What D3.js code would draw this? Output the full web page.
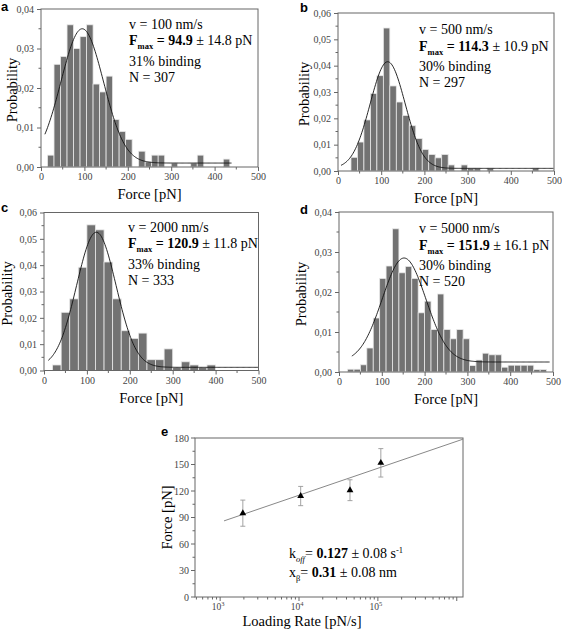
<!DOCTYPE html>
<html><head><meta charset="utf-8">
<script src="https://cdn.jsdelivr.net/npm/d3@7/dist/d3.min.js"></script>
<style>
body{margin:0;background:#fff}
svg{display:block}
text{font-family:"Liberation Serif","Times New Roman",serif}
.lab{font-family:"Liberation Sans",Arial,sans-serif;font-weight:bold}
</style>
</head><body>
<svg id="chart" width="562" height="631"></svg>
<script>
// ---------- DATA ----------
const forceTicks = [0, 100, 200, 300, 400, 500];

// Panel a: v = 100 nm/s, bins of 15 pN starting at 15 pN
const binStartA = 15, binWidthA = 15;
const probA = [0.003,0.026,0.028,0.036,0.030,0.033,0.036,0.021,0.019,0.023,0.012,0.009,0.007,0,
               0.004,0.0013,0.003,0.003,0,0.001,0,0,0.001,0.003,0,0,0,0.002];
const fitA = {xc: 95, w: 49, A: 0.034, y0: 0.001, from: 9, to: 440};

// Panel b: v = 500 nm/s
const binStartB = 30, binWidthB = 15;
const probB = [0.0052,0.011,0.0194,0.0294,0.0362,0.0543,0.0323,0.0262,0.0211,0.0172,0.0123,0.0082,
               0.0063,0.005,0.0063,0.0023,0,0.0023,0.0011,0.0011,0,0.0011,0,0,0,0,0,0,0.0011];
const fitB = {xc: 115, w: 40.5, A: 0.0405, y0: 0.001, from: 7, to: 500};

// Panel c: v = 2000 nm/s, bins of 20 pN
const binStartC = 20, binWidthC = 20;
const probC = [0.0021,0.0221,0.0272,0.0392,0.0553,0.0534,0.0412,0.0272,0.0151,0.0122,0.0142,
               0.0041,0.0041,0.0082,0.0012,0.0033,0.0021,0.0012,0.0021];
const fitC = {xc: 122, w: 46, A: 0.0513, y0: 0.0012, from: 10, to: 500};

// Panel d: v = 5000 nm/s
const binStartD = 20, binWidthD = 15;
const probD = [0.0007,0.0007,0.0018,0.006,0.0135,0.0234,0.0265,0.0358,0.0248,0.0264,0.0234,0.0148,
               0.0177,0.0106,0.0195,0.0106,0.0083,0.0106,0.0083,0.0016,0.003,0.0047,0.0043,0.0043,
               0.0012,0.0017,0.0017,0.0017,0.0017,0.0006,0.0006];
const fitD = {xc: 152, w: 51, A: 0.026, y0: 0.0025, from: 30, to: 493};

const velocities = ["100", "500", "2000", "5000"];
const fmaxValues = ["94.9", "114.3", "120.9", "151.9"];
const fmaxErrors = ["14.8", "10.9", "11.8", "16.1"];
const bindingPct = ["31%", "30%", "33%", "30%"];
const countsN = ["307", "297", "333", "520"];

// Panel e: loading rate vs rupture force
const loadingRates = [1940, 10500, 44300, 109000];
const ruptureForce = [94.9, 114.3, 120.9, 151.9];
const ruptureErr = [14.8, 10.9, 11.8, 16.1];
const forceTicksE = [0, 30, 60, 90, 120, 150, 180];
const rateTickExps = [3, 4, 5];
const koff = 0.127, xBeta = 0.31, kT = 4.11;
const fitRates = [1120, 1.2e6];

// ---------- DRAW ----------
const svg = d3.select("#chart");
const fmtProb = d => d3.format(".2f")(d).replace(".", ",");
const axisCol = "#666", tickTextCol = "#444";

function histPanel(cfg) {
  const g = svg.append("g");
  const x = d3.scaleLinear().domain([0, 500]).range([cfg.left, cfg.right]);
  const y = d3.scaleLinear().domain([0, cfg.yMax]).range([cfg.bottom, cfg.top]);

  const bins = cfg.probs.map((p, i) => ({x0: cfg.start + i * cfg.width, x1: cfg.start + (i + 1) * cfg.width, p}))
                        .filter(b => b.p > 0);
  g.selectAll("rect.bar").data(bins).join("rect")
    .attr("class", "bar")
    .attr("x", d => x(d.x0)).attr("width", d => x(d.x1) - x(d.x0))
    .attr("y", d => y(d.p)).attr("height", d => y(0) - y(d.p))
    .attr("fill", "#727272").attr("stroke", "#e8e8e8").attr("stroke-width", 0.8);

  const f = cfg.fit;
  const pts = d3.range(f.from, f.to + 0.01, 2).map(v => [v, f.y0 + f.A * Math.exp(-((v - f.xc) ** 2) / (2 * f.w * f.w))]);
  g.append("path").datum(pts)
    .attr("d", d3.line().x(d => x(d[0])).y(d => y(d[1])))
    .attr("fill", "none").attr("stroke", "#111").attr("stroke-width", 0.9);

  g.append("rect").attr("x", cfg.left).attr("y", cfg.top)
    .attr("width", cfg.right - cfg.left).attr("height", cfg.bottom - cfg.top)
    .attr("fill", "none").attr("stroke", axisCol).attr("stroke-width", 1);

  const yAx = d3.axisLeft(y).tickValues(cfg.yTicks).tickFormat(fmtProb).tickSize(4).tickPadding(3);
  const ya = g.append("g").attr("transform", `translate(${cfg.left},0)`).call(yAx);
  const yMinor = d3.range(0.005, cfg.yMax, 0.01);
  g.selectAll("line.ym").data(yMinor).join("line").attr("class", "ym")
    .attr("x1", cfg.left - 2.5).attr("x2", cfg.left).attr("y1", d => y(d)).attr("y2", d => y(d))
    .attr("stroke", axisCol);

  const xAx = d3.axisBottom(x).tickValues(forceTicks).tickFormat(d3.format("d")).tickSize(4).tickPadding(2);
  const xa = g.append("g").attr("transform", `translate(0,${cfg.bottom})`).call(xAx);
  g.selectAll("line.xm").data([50, 150, 250, 350, 450]).join("line").attr("class", "xm")
    .attr("y1", cfg.bottom).attr("y2", cfg.bottom + 2.5).attr("x1", d => x(d)).attr("x2", d => x(d))
    .attr("stroke", axisCol);

  [ya, xa].forEach(a => {
    a.select(".domain").remove();
    a.selectAll(".tick line").attr("stroke", axisCol);
    a.selectAll(".tick text").attr("font-size", 10).attr("fill", tickTextCol)
      .attr("font-family", '"Liberation Serif",serif');
  });

  g.append("text").attr("x", (cfg.left + cfg.right) / 2).attr("y", cfg.bottom + 32)
    .attr("text-anchor", "middle").attr("font-size", 14.5).text("Force [pN]");
  g.append("text").attr("transform", `translate(${cfg.ylabX},${(cfg.top + cfg.bottom) / 2 + 2}) rotate(-90)`)
    .attr("text-anchor", "middle").attr("font-size", 14.5).text("Probability");

  g.append("text").attr("class", "lab").attr("x", cfg.letterX).attr("y", cfg.letterY)
    .attr("font-size", 13).text(cfg.letter);

  const i = cfg.idx, tx = cfg.annX, ty = cfg.annY, fs = 14;
  g.append("text").attr("x", tx).attr("y", ty).attr("font-size", fs).text(`v = ${velocities[i]} nm/s`);
  const t2 = g.append("text").attr("x", tx).attr("y", ty + 16.5).attr("font-size", fs);
  t2.append("tspan").attr("font-weight", "bold").text("F");
  t2.append("tspan").attr("font-weight", "bold").attr("font-size", 8.5).attr("dy", 4).text("max");
  t2.append("tspan").attr("font-weight", "bold").attr("dy", -4).text(i === 0 ? " =  " : " = ");
  t2.append("tspan").attr("font-weight", "bold").text(fmaxValues[i]);
  t2.append("tspan").text(` \u00b1 ${fmaxErrors[i]} pN`);
  g.append("text").attr("x", tx).attr("y", ty + 37).attr("font-size", fs).text(`${bindingPct[i]} binding`);
  g.append("text").attr("x", tx).attr("y", ty + 53).attr("font-size", fs).text(`N = ${countsN[i]}`);
}

histPanel({idx: 0, letter: "a", letterX: 1, letterY: 11, left: 41, right: 258, top: 9, bottom: 167, yMax: 0.04,
  yTicks: [0, 0.01, 0.02, 0.03, 0.04], probs: probA, start: binStartA, width: binWidthA, fit: fitA,
  ylabX: 17, annX: 129, annY: 28.5});
histPanel({idx: 1, letter: "b", letterX: 300, letterY: 12, left: 338, right: 554, top: 13, bottom: 171, yMax: 0.06,
  yTicks: [0, 0.01, 0.02, 0.03, 0.04, 0.05, 0.06], probs: probB, start: binStartB, width: binWidthB, fit: fitB,
  ylabX: 309, annX: 419, annY: 34});
histPanel({idx: 2, letter: "c", letterX: 1, letterY: 212, left: 44, right: 258.5, top: 212.5, bottom: 370.5, yMax: 0.06,
  yTicks: [0, 0.01, 0.02, 0.03, 0.04, 0.05, 0.06], probs: probC, start: binStartC, width: binWidthC, fit: fitC,
  ylabX: 12, annX: 128, annY: 231.5});
histPanel({idx: 3, letter: "d", letterX: 300, letterY: 214, left: 339, right: 553, top: 212, bottom: 372, yMax: 0.04,
  yTicks: [0, 0.01, 0.02, 0.03, 0.04], probs: probD, start: binStartD, width: binWidthD, fit: fitD,
  ylabX: 306, annX: 419, annY: 233});

// ---------- Panel e ----------
(function () {
  const L = 195, R = 463, T = 438, B = 597;
  const g = svg.append("g");
  const x = d3.scaleLog().domain([480, 1.2e6]).range([L, R]);
  const y = d3.scaleLinear().domain([0, 180]).range([B, T]);

  g.append("rect").attr("x", L).attr("y", T).attr("width", R - L).attr("height", B - T)
    .attr("fill", "none").attr("stroke", axisCol);

  g.selectAll("line.yt").data(d3.range(0, 181, 15)).join("line").attr("class", "yt")
    .attr("x1", d => L - (d % 30 === 0 ? 4 : 2.5)).attr("x2", L).attr("y1", d => y(d)).attr("y2", d => y(d))
    .attr("stroke", axisCol);
  g.selectAll("text.yl").data(forceTicksE).join("text").attr("class", "yl")
    .attr("x", L - 6).attr("y", d => y(d) + 3.5).attr("text-anchor", "end")
    .attr("font-size", 10).attr("fill", tickTextCol).text(d => d);

  const minor = [];
  for (let e = 2; e <= 6; e++) for (let m = 1; m <= 9; m++) {
    const v = m * Math.pow(10, e);
    if (v >= 480 && v <= 1.2e6) minor.push({v, major: m === 1});
  }
  g.selectAll("line.xt").data(minor).join("line").attr("class", "xt")
    .attr("x1", d => x(d.v)).attr("x2", d => x(d.v)).attr("y1", B).attr("y2", d => B + (d.major ? 4 : 2.5))
    .attr("stroke", axisCol);
  const xl = g.selectAll("text.xl").data(rateTickExps).join("text").attr("class", "xl")
    .attr("x", d => x(Math.pow(10, d)) - 2).attr("y", B + 13).attr("text-anchor", "middle")
    .attr("font-size", 9.5).attr("fill", tickTextCol);
  xl.append("tspan").text("10");
  xl.append("tspan").attr("font-size", 6.5).attr("dy", -4).text(d => d);

  const bell = r => (kT / xBeta) * Math.log(r * xBeta / (koff * kT));
  g.append("path").datum(fitRates.map(r => [r, bell(r)]))
    .attr("d", d3.line().x(d => x(d[0])).y(d => y(d[1])))
    .attr("stroke", "#888").attr("stroke-width", 1).attr("fill", "none");

  const pts = loadingRates.map((r, i) => ({r, f: ruptureForce[i], e: ruptureErr[i]}));
  const eb = g.selectAll("g.eb").data(pts).join("g").attr("class", "eb").attr("stroke", "#999").attr("stroke-width", 0.9);
  eb.append("line").attr("x1", d => x(d.r)).attr("x2", d => x(d.r)).attr("y1", d => y(d.f - d.e)).attr("y2", d => y(d.f + d.e));
  eb.append("line").attr("x1", d => x(d.r) - 2.5).attr("x2", d => x(d.r) + 2.5).attr("y1", d => y(d.f - d.e)).attr("y2", d => y(d.f - d.e));
  eb.append("line").attr("x1", d => x(d.r) - 2.5).attr("x2", d => x(d.r) + 2.5).attr("y1", d => y(d.f + d.e)).attr("y2", d => y(d.f + d.e));

  g.selectAll("path.pt").data(pts).join("path").attr("class", "pt")
    .attr("d", d3.symbol().type(d3.symbolTriangle).size(20))
    .attr("transform", d => `translate(${x(d.r)},${y(d.f)})`).attr("fill", "#000");

  g.append("text").attr("x", 302).attr("y", 626).attr("text-anchor", "middle").attr("font-size", 14.5).text("Loading Rate [pN/s]");
  g.append("text").attr("transform", `translate(172,${(T + B) / 2}) rotate(-90)`).attr("text-anchor", "middle")
    .attr("font-size", 14.5).text("Force [pN]");
  g.append("text").attr("class", "lab").attr("x", 161).attr("y", 436).attr("font-size", 13).text("e");

  const a1 = g.append("text").attr("x", 289).attr("y", 558).attr("font-size", 14);
  a1.append("tspan").text("k");
  a1.append("tspan").attr("font-size", 8.5).attr("font-style", "italic").attr("dy", 4).text("off");
  a1.append("tspan").attr("dy", -4).text("= ");
  a1.append("tspan").attr("font-weight", "bold").text(String(koff));
  a1.append("tspan").text(" \u00b1 0.08 s");
  a1.append("tspan").attr("font-size", 8.5).attr("dy", -5).text("-1");
  const a2 = g.append("text").attr("x", 289).attr("y", 577).attr("font-size", 14);
  a2.append("tspan").text("x");
  a2.append("tspan").attr("font-size", 8.5).attr("dy", 4).text("\u03b2");
  a2.append("tspan").attr("dy", -4).text("= ");
  a2.append("tspan").attr("font-weight", "bold").text(String(xBeta));
  a2.append("tspan").text(" \u00b1 0.08 nm");
})();
</script>
</body></html>
